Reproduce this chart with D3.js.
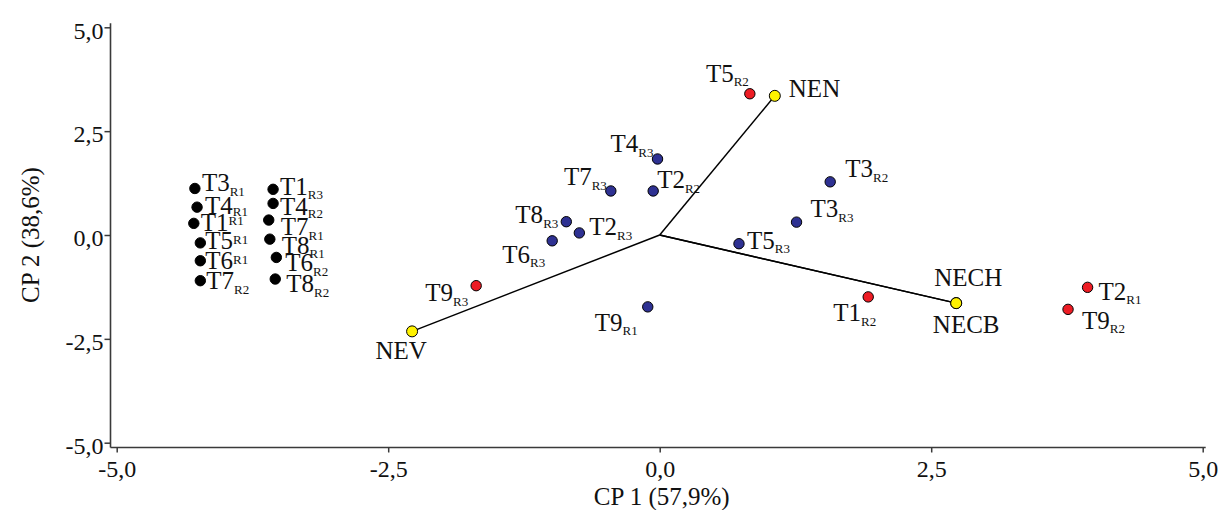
<!DOCTYPE html>
<html>
<head>
<meta charset="utf-8">
<script src="https://cdn.jsdelivr.net/npm/d3@7"></script>
<style>
    body { margin: 0; background: #fff; }
    #chart { width: 1220px; height: 510px; }
    text { font-family: "Liberation Serif", "Times New Roman", serif; fill: #111; }
</style>
</head>
<body>
<div id="chart"></div>
<script>
// scores of the samples (treatment + repetition)
const treatments = ["T3","T4","T1","T5","T6","T7","T1","T4","T7","T8","T6","T8",
                    "T4","T7","T2","T8","T2","T6","T9","T3","T3","T5",
                    "T9","T5","T1","T2","T9"];
const reps       = ["R1","R1","R1","R1","R1","R2","R3","R2","R1","R1","R2","R2",
                    "R3","R3","R2","R3","R3","R3","R1","R2","R3","R3",
                    "R3","R2","R2","R1","R2"];
const pc1        = [-4.28,-4.26,-4.29,-4.23,-4.23,-4.23,-3.56,-3.56,-3.60,-3.59,-3.53,-3.54,
                    -0.02,-0.45,-0.06,-0.86,-0.74,-0.99,-0.11,1.57,1.26,0.73,
                    -1.69,0.83,1.92,3.94,3.76];
const pc2        = [1.12,0.67,0.28,-0.19,-0.62,-1.10,1.10,0.76,0.36,-0.10,-0.54,-1.06,
                    1.83,1.06,1.06,0.32,0.05,-0.14,-1.73,1.28,0.31,-0.21,
                    -1.22,3.40,-1.49,-1.26,-1.79];
const groups     = ["A","A","A","A","A","A","A","A","A","A","A","A",
                    "B","B","B","B","B","B","B","B","B","B",
                    "C","C","C","C","C"];

// variable vectors (loadings)
const varNames = ["NEV","NEN","NECH","NECB"];
const varPc1   = [-2.28, 1.06, 2.73, 2.73];
const varPc2   = [-2.32, 3.35, -1.64, -1.64];

// axes
const tickValues = [-5, -2.5, 0, 2.5, 5];
const xTitle = "CP 1 (57,9%)";
const yTitle = "CP 2 (38,6%)";

// label placement [dx, dy main, dy subscript, anchor], same order as the samples
const labelPos = [
    [7,3,8,"start"],[8,7,9,"start"],[7,8,2,"start"],[5,6,1,"start"],[5,8,3,"start"],[6,8,13,"start"],
    [7,6,10,"start"],[7,12,15,"start"],[12,15,20,"start"],[12,15,19,"start"],[9,14,19,"start"],[11,13,18,"start"],
    [-4,-7,-2,"end"],[-4,-6,-1,"end"],[4,-3,2,"start"],[-8,1,6,"end"],[10,2,7,"start"],[-7,22,26,"end"],
    [-10,24,28,"end"],[15,-5,0,"start"],[14,-5,0,"start"],[8,5,9,"start"],
    [-8,15,20,"end"],[-1,-12,-8,"end"],[8,24,29,"end"],[11,13,17,"start"],[14,20,24,"start"]
];
const varLabelPos = [[-11,28,"middle"],[14,1,"start"],[12,-17,"middle"],[10,30,"middle"]];

class Biplot {
    constructor(parentElement) {
        this.parentElement = parentElement;
        this.groupColor = {A: "#000000", B: "#2e3192", C: "#ed1c24"};
        this.varColor   = "#fff200";
        this.initVis();
    }

    initVis() {
        let vis = this;

        vis.width  = 1220;
        vis.height = 510;

        vis.svg = d3.select("#" + vis.parentElement).append("svg")
            .attr("width", vis.width)
            .attr("height", vis.height);

        vis.x = d3.scaleLinear().domain([-5, 5]).range([116.7, 1202.7]);
        vis.y = d3.scaleLinear().domain([-5, 5]).range([442.7, 27.3]);

        vis.axisX = 110.5;   // where the y axis sits
        vis.axisY = 447.5;   // where the x axis sits

        vis.displayData = treatments.map((t, i) => ({
            name: t, rep: reps[i], x: pc1[i], y: pc2[i], group: groups[i], pos: labelPos[i]
        }));
        vis.vars = varNames.map((n, i) => ({name: n, x: varPc1[i], y: varPc2[i], pos: varLabelPos[i]}));

        vis.drawAxes();
        vis.updateVis();
    }

    drawAxes() {
        let vis = this;
        let fmt = d => d3.format(".1f")(d).replace(".", ",").replace("−", "-");

        let xAxis = d3.axisBottom(vis.x).tickValues(tickValues).tickFormat(fmt)
            .tickSize(5).tickSizeOuter(0).tickPadding(7);
        let yAxis = d3.axisLeft(vis.y).tickValues(tickValues).tickFormat(fmt)
            .tickSize(6).tickSizeOuter(0).tickPadding(1);

        let gx = vis.svg.append("g")
            .attr("transform", `translate(0,${vis.axisY})`)
            .call(xAxis);
        let gy = vis.svg.append("g")
            .attr("transform", `translate(${vis.axisX},0)`)
            .call(yAxis);

        [gx, gy].forEach(g => {
            g.select(".domain").remove();
            g.selectAll(".tick line").attr("stroke", "#3a3a3a").attr("stroke-width", 1.5);
            g.selectAll("text").attr("font-size", 24).attr("fill", "#111")
                .attr("font-family", "'Liberation Serif', 'Times New Roman', serif");
        });
        gy.selectAll("text").attr("dy", "0.45em");

        // axis lines
        vis.svg.append("line")
            .attr("x1", vis.axisX).attr("x2", vis.axisX)
            .attr("y1", vis.y(5) - 4).attr("y2", vis.axisY)
            .attr("stroke", "#3a3a3a").attr("stroke-width", 1.6);
        vis.svg.append("line")
            .attr("x1", vis.axisX).attr("x2", vis.x(5) + 3)
            .attr("y1", vis.axisY).attr("y2", vis.axisY)
            .attr("stroke", "#3a3a3a").attr("stroke-width", 1.6);

        // titles
        vis.svg.append("text")
            .attr("x", vis.x(0) + 2).attr("y", 505)
            .attr("text-anchor", "middle")
            .attr("font-size", 25)
            .text(xTitle);
        vis.svg.append("text")
            .attr("transform", `translate(39,${vis.y(0)}) rotate(-90)`)
            .attr("text-anchor", "middle")
            .attr("font-size", 25)
            .text(yTitle);
    }

    updateVis() {
        let vis = this;

        // vectors from the origin
        vis.svg.selectAll(".vector")
            .data(vis.vars)
            .enter()
            .append("line")
            .attr("class", "vector")
            .attr("x1", vis.x(0)).attr("y1", vis.y(0))
            .attr("x2", d => vis.x(d.x)).attr("y2", d => vis.y(d.y))
            .attr("stroke", "#000").attr("stroke-width", 1.5);

        // sample points
        vis.svg.selectAll(".sample")
            .data(vis.displayData)
            .enter()
            .append("circle")
            .attr("class", "sample")
            .attr("cx", d => vis.x(d.x))
            .attr("cy", d => vis.y(d.y))
            .attr("r", 5.2)
            .attr("fill", d => vis.groupColor[d.group])
            .attr("stroke", "#000")
            .attr("stroke-width", 1);

        // sample labels with subscript repetition
        let labels = vis.svg.selectAll(".sample-label")
            .data(vis.displayData)
            .enter()
            .append("text")
            .attr("class", "sample-label")
            .attr("x", d => vis.x(d.x) + d.pos[0])
            .attr("y", d => vis.y(d.y) + d.pos[1])
            .attr("text-anchor", d => d.pos[3])
            .attr("font-size", 25);
        labels.append("tspan").text(d => d.name);
        labels.append("tspan")
            .attr("font-size", 13)
            .attr("dy", d => d.pos[2] - d.pos[1])
            .text(d => d.rep);

        // variable tips
        vis.svg.selectAll(".var-point")
            .data(vis.vars)
            .enter()
            .append("circle")
            .attr("class", "var-point")
            .attr("cx", d => vis.x(d.x))
            .attr("cy", d => vis.y(d.y))
            .attr("r", 5.5)
            .attr("fill", vis.varColor)
            .attr("stroke", "#000")
            .attr("stroke-width", 1);

        vis.svg.selectAll(".var-label")
            .data(vis.vars)
            .enter()
            .append("text")
            .attr("class", "var-label")
            .attr("x", d => vis.x(d.x) + d.pos[0])
            .attr("y", d => vis.y(d.y) + d.pos[1])
            .attr("text-anchor", d => d.pos[2])
            .attr("font-size", 25)
            .text(d => d.name);
    }
}

new Biplot("chart");
</script>
</body>
</html>
